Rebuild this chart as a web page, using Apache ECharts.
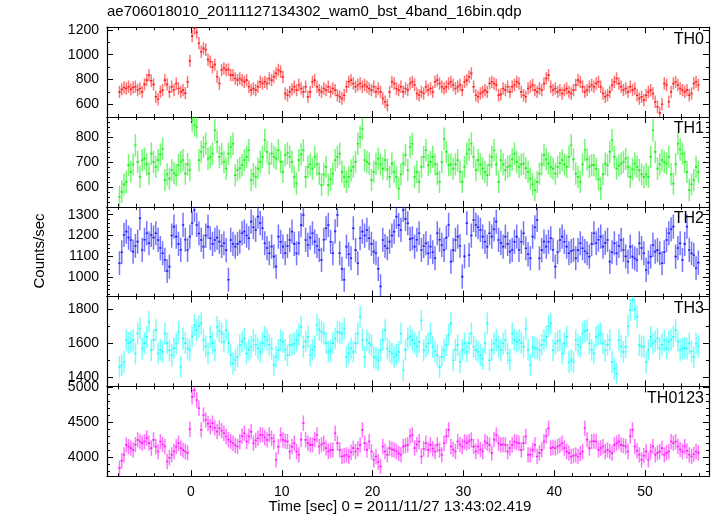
<!DOCTYPE html>
<html><head><meta charset="utf-8">
<script src="https://cdn.jsdelivr.net/npm/echarts@6/dist/echarts.min.js"></script>
<style>html,body{margin:0;padding:0;background:#fff}#c{width:717px;height:516px}</style>
</head><body><div id="c"></div>
<script>
const chartTitle = 'ae706018010_20111127134302_wam0_bst_4band_16bin.qdp';
const xTitle = 'Time [sec] 0 = 2011/11/27 13:43:02.419';
const yTitle = 'Counts/sec';
const bandNames = ['TH0', 'TH1', 'TH2', 'TH3', 'TH0123'];
const binStart = -7.875;  // first bin centre (s)
const binWidth = 0.25;    // s

const th0 = [700,720,735,727,741,720,735,741,715,727,700,760,795,835,790,760,
660,640,700,714,795,760,700,741,715,768,727,700,714,690,781,950,
1150,1214,1180,1092,1024,1051,1040,960,943,900,920,822,768,876,890,876,
880,835,835,808,795,808,795,781,795,741,714,727,714,741,781,768,
781,768,808,795,822,849,876,862,820,687,673,700,720,741,714,755,
727,700,741,660,700,781,795,741,714,700,727,714,741,700,727,714,
673,660,646,673,741,781,795,768,741,755,768,741,755,741,727,714,
741,700,727,700,646,620,592,700,781,768,727,714,741,700,727,714,
768,781,755,687,673,700,687,741,714,727,700,781,795,768,741,727,
741,768,781,755,727,741,755,714,781,795,822,849,741,673,660,687,
700,714,700,768,781,768,755,673,680,727,714,741,700,741,755,781,
768,700,673,660,727,741,755,714,700,727,714,768,808,835,741,714,
727,700,714,687,714,727,700,687,714,755,795,781,741,700,714,741,
755,741,768,781,741,687,660,673,700,755,781,808,768,741,714,727,
700,741,714,727,673,646,660,633,673,700,714,687,620,580,530,600,
768,755,620,700,768,781,755,727,714,700,714,673,687,768,781,755];

const th1 = [560,580,610,620,687,660,690,767,700,640,707,713,690,653,733,700,
680,707,730,753,627,650,633,667,655,647,687,700,707,653,690,667,
867,847,840,707,740,760,773,713,720,733,827,780,720,733,700,673,
733,760,773,647,667,675,687,707,720,747,627,650,640,673,700,720,
787,740,693,733,720,713,747,700,660,727,735,720,700,640,613,707,
730,747,640,680,690,673,720,690,653,607,650,680,607,630,653,707,
720,733,660,640,620,640,665,680,700,773,800,833,707,700,693,627,
660,693,713,690,673,707,670,640,693,660,640,593,650,693,727,667,
760,773,640,660,620,680,720,747,687,700,720,690,653,620,700,793,
740,687,690,673,690,707,660,620,680,733,750,773,720,667,707,690,
673,660,647,687,720,747,690,620,707,690,667,680,685,710,733,700,
680,690,693,675,660,633,610,587,620,653,690,727,710,693,680,673,
653,680,695,707,690,680,720,767,710,653,640,620,690,747,710,680,
687,687,673,630,593,650,693,687,740,787,720,673,685,693,700,713,
680,640,670,693,680,667,650,640,650,640,720,827,740,673,690,707,
700,693,720,650,613,690,773,750,733,700,660,587,610,627,680,660];

const th2 = [1067,1120,1203,1219,1190,1179,1123,1150,1171,1283,1131,1180,1211,1163,1203,1190,
1211,1179,1140,1115,1083,1030,1051,1200,1243,1195,1160,1131,1251,1180,1131,1195,
1260,1323,1251,1210,1179,1147,1200,1243,1187,1160,1179,1190,1171,1150,1163,1130,
988,1179,1160,1147,1160,1171,1211,1219,1200,1187,1267,1240,1227,1291,1260,1235,
1163,1140,1115,1147,1100,1051,1195,1170,1147,1115,1150,1179,1219,1160,1115,1163,
1250,1299,1179,1155,1190,1211,1171,1150,1131,1083,1180,1235,1251,1170,1115,1220,
1299,1115,1040,988,1147,1110,1091,1235,1130,1067,1187,1219,1200,1227,1187,1160,
1123,1115,1040,956,1179,1150,1139,1171,1200,1219,1291,1250,1227,1323,1280,1259,
1183,1187,1147,1180,1211,1131,1150,1163,1115,1147,1120,1091,1211,1180,1155,1131,
1190,1251,1075,1130,1179,1195,1150,1003,1100,1259,1107,1200,1275,1251,1240,1227,
1195,1170,1147,1211,1195,1230,1267,1179,1165,1147,1195,1160,1123,1131,1170,1195,
1131,1170,1211,1139,1110,1091,1195,1240,1275,1091,1130,1171,1147,1170,1187,1131,
1051,1120,1179,1195,1170,1147,1115,1125,1131,1091,1130,1163,1139,1125,1115,1099,
1160,1211,1163,1180,1195,1147,1165,1179,1075,1120,1163,1115,1150,1179,1131,1100,
1075,1147,1099,1090,1083,1163,1140,1115,1035,1070,1099,1155,1123,1130,1115,1067,
1120,1179,1211,1230,1243,1099,1140,1163,1083,1160,1243,1131,1115,1107,1043,1070];

const th3 = [1459,1470,1489,1617,1600,1607,1617,1538,1657,1687,1568,1600,1637,1726,1558,1620,
1677,1538,1560,1548,1657,1600,1558,1528,1570,1598,1667,1459,1627,1600,1568,1558,
1640,1707,1677,1700,1717,1617,1580,1538,1637,1600,1558,1697,1670,1657,1607,1677,
1600,1528,1479,1500,1518,1588,1610,1627,1538,1560,1578,1617,1590,1568,1548,1600,
1637,1617,1590,1568,1469,1520,1558,1617,1607,1560,1528,1588,1590,1598,1617,1650,
1697,1578,1610,1637,1528,1560,1578,1707,1680,1667,1657,1600,1548,1558,1600,1627,
1667,1660,1657,1687,1518,1540,1568,1548,1600,1657,1756,1620,1518,1617,1600,1588,
1518,1510,1498,1558,1620,1677,1568,1550,1538,1518,1530,1548,1657,1439,1560,1627,
1640,1617,1598,1580,1607,1736,1558,1580,1598,1657,1578,1550,1528,1459,1520,1558,
1588,1650,1717,1498,1560,1588,1488,1560,1598,1548,1600,1657,1578,1560,1548,1528,
1508,1600,1717,1498,1560,1598,1617,1580,1558,1598,1617,1540,1498,1657,1620,1607,
1617,1600,1578,1687,1560,1469,1578,1570,1568,1558,1590,1617,1637,1700,1717,1558,
1598,1610,1617,1538,1600,1637,1488,1500,1488,1617,1590,1578,1657,1670,1677,1598,
1560,1538,1637,1650,1657,1598,1558,1590,1617,1488,1450,1419,1617,1580,1548,1578,
1700,1796,1855,1800,1756,1588,1580,1578,1488,1560,1637,1598,1610,1627,1568,1590,
1617,1568,1607,1620,1637,1677,1610,1558,1568,1570,1568,1598,1550,1518,1598,1580];

const th0123 = [3842,3950,4033,4175,4150,4128,4104,4180,4247,4223,4200,4223,4271,4200,4128,4247,
4150,4080,4223,4180,4152,3937,3990,4033,4080,4150,4199,4128,4100,4080,4060,4400,
4866,4961,4819,4700,4390,4604,4533,4480,4437,4485,4420,4366,4414,4380,4342,4295,
4250,4223,4199,4170,4152,4223,4300,4342,4223,4300,4366,4199,4240,4271,4318,4318,
4280,4247,4318,4270,4223,3961,4150,4318,4247,4230,4223,4080,4150,4199,4080,4033,
4250,4485,4247,4200,4175,4175,4250,4318,4152,4180,4199,4128,4080,4100,4104,4342,
4200,4104,4009,4020,4033,4009,4070,4128,4080,4120,4175,4390,4200,4104,4223,4080,
3961,4009,3930,3866,4152,4080,4033,4128,4110,4104,4080,4050,4033,4152,4165,4175,
4300,4318,4128,4180,4223,4009,4120,4199,4104,4175,4120,4080,4175,4100,4033,4199,
4300,4390,4152,4110,4080,4223,4180,4152,4223,4200,4223,4247,4150,4080,4152,4110,
4080,4223,4200,4175,4057,4250,4318,4199,4175,4180,4175,4080,4130,4175,4223,4210,
4199,4104,4200,4295,4033,4033,4100,4175,4009,4060,4104,4223,4300,4414,4128,4140,
4128,4152,4170,4199,4128,4080,4057,4009,4020,4033,4009,4050,4080,4414,4250,4128,
4223,4230,4223,4104,4130,4152,4080,4104,4080,4057,4175,4200,4223,4175,4165,4152,
4080,4300,4390,4152,4090,4033,3961,4020,4080,3961,4080,4152,4033,4060,4080,4128,
4033,4060,4080,4223,4200,4223,4152,4110,4080,4152,4090,4033,4009,4040,4080,4060];

// typical 1-sigma error half-length per band (counts/sec)
const errHalf = [50, 45, 58, 65, 110];

const xMajorTicks = [0, 10, 20, 30, 40, 50];
const xMinorTicks = [-8,-6,-4,-2,2,4,6,8,12,14,16,18,22,24,26,28,32,34,36,38,42,44,46,48,52,54,56];

const yMajorTicks = [
  [600, 800, 1000, 1200],
  [600, 700, 800],
  [1000, 1100, 1200, 1300],
  [1400, 1600, 1800],
  [4000, 4500, 5000]
];
const yMinorTicks = [
  [700, 900, 1100],
  [540,560,580,620,640,660,680,720,740,760,780,820,840,860],
  [920,940,960,980,1020,1040,1060,1080,1120,1140,1160,1180,1220,1240,1260,1280,1320],
  [1500, 1700],
  [3800,3900,4100,4200,4300,4400,4600,4700,4800,4900]
];
const yRanges = [[497, 1222], [520, 880], [907, 1338], [1343, 1876], [3726, 5014]];
const xRange = [-9.25, 57.05];

const bandData = [th0, th1, th2, th3, th0123];
const bandColors = ['#ff2020', '#20f020', '#2020ff', '#20ffff', '#ff20ff'];

const FONT = '"Liberation Sans", Arial, sans-serif';
const GRID_TOP = 27.2, GRID_H = 89.8, GRID_LEFT = 107, GRID_RIGHT = 8;

function renderItem(params, api) {
  const t = api.value(0), v = api.value(1), e = api.value(2);
  const a = api.coord([t - binWidth / 2, v]);
  const b = api.coord([t + binWidth / 2, v]);
  const lo = api.coord([t, v - e]);
  const hi = api.coord([t, v + e]);
  const color = api.visual('color');
  return {
    type: 'group',
    children: [
      { type: 'line', shape: { x1: lo[0], y1: lo[1], x2: hi[0], y2: hi[1] },
        style: { stroke: color, lineWidth: 1.5, opacity: 0.62 } },
      { type: 'line', shape: { x1: a[0], y1: a[1], x2: b[0], y2: b[1] },
        style: { stroke: color, lineWidth: 1.6, opacity: 1 } }
    ]
  };
}

const grids = [], xAxes = [], yAxes = [], series = [], graphics = [];
const lineStyle = { color: '#000', width: 1.2 };
const tickStyle = { color: '#000', width: 1 };
const plainNum = v => String(Math.round(v));

bandData.forEach((vals, k) => {
  const top = GRID_TOP + k * GRID_H;
  grids.push({ left: GRID_LEFT, right: GRID_RIGHT, top: top, height: GRID_H });

  const xb = { type: 'value', gridIndex: k, min: xRange[0], max: xRange[1],
    splitLine: { show: false }, axisPointer: { show: false } };
  ['bottom', 'top'].forEach(pos => {
    xAxes.push(Object.assign({}, xb, {
      position: pos,
      axisLine: { show: true, onZero: false, lineStyle: lineStyle },
      axisTick: { show: true, inside: true, length: 6, customValues: xMajorTicks, lineStyle: tickStyle },
      axisLabel: { show: pos === 'bottom' && k === bandData.length - 1, customValues: xMajorTicks,
        formatter: plainNum, color: '#000', fontFamily: FONT, fontSize: 14, margin: 9 }
    }));
    xAxes.push(Object.assign({}, xb, {
      position: pos,
      axisLine: { show: false, onZero: false },
      axisTick: { show: true, inside: true, length: 3, customValues: xMinorTicks, lineStyle: tickStyle },
      axisLabel: { show: false }
    }));
  });

  const yb = { type: 'value', gridIndex: k, min: yRanges[k][0], max: yRanges[k][1],
    splitLine: { show: false }, axisPointer: { show: false } };
  ['left', 'right'].forEach(pos => {
    yAxes.push(Object.assign({}, yb, {
      position: pos,
      axisLine: { show: true, onZero: false, lineStyle: lineStyle },
      axisTick: { show: true, inside: true, length: 6, customValues: yMajorTicks[k], lineStyle: tickStyle },
      axisLabel: { show: pos === 'left', customValues: yMajorTicks[k], formatter: plainNum,
        color: '#000', fontFamily: FONT, fontSize: 14, margin: 8 }
    }));
    yAxes.push(Object.assign({}, yb, {
      position: pos,
      axisLine: { show: false, onZero: false },
      axisTick: { show: true, inside: true, length: 3, customValues: yMinorTicks[k], lineStyle: tickStyle },
      axisLabel: { show: false }
    }));
  });

  series.push({
    type: 'custom', name: bandNames[k], xAxisIndex: 4 * k, yAxisIndex: 4 * k,
    renderItem: renderItem, clip: true, silent: true,
    itemStyle: { color: bandColors[k] },
    encode: { x: 0, y: 1 },
    data: vals.map((v, i) => [binStart + binWidth * i, v, errHalf[k]])
  });

  graphics.push({ type: 'text', x: 704, y: top + 12, z: 100,
    style: { text: bandNames[k], font: '16px ' + FONT, fill: '#000',
      align: 'right', textAlign: 'right', verticalAlign: 'middle', textVerticalAlign: 'middle' } });
});

graphics.push({ type: 'text', x: 107, y: 12,
  style: { text: chartTitle, font: '15px ' + FONT, fill: '#000',
    align: 'left', textAlign: 'left', verticalAlign: 'middle', textVerticalAlign: 'middle' } });
graphics.push({ type: 'text', x: 400, y: 507,
  style: { text: xTitle, font: '15px ' + FONT, fill: '#000',
    align: 'center', textAlign: 'center', verticalAlign: 'middle', textVerticalAlign: 'middle' } });
graphics.push({ type: 'text', x: 40, y: 251, rotation: Math.PI / 2,
  style: { text: yTitle, font: '15px ' + FONT, fill: '#000',
    align: 'center', textAlign: 'center', verticalAlign: 'middle', textVerticalAlign: 'middle' } });

const chart = echarts.init(document.getElementById('c'), null, { renderer: 'canvas' });
chart.setOption({
  animation: false,
  backgroundColor: '#fff',
  grid: grids,
  xAxis: xAxes,
  yAxis: yAxes,
  series: series,
  graphic: graphics
});
</script>
</body></html>
